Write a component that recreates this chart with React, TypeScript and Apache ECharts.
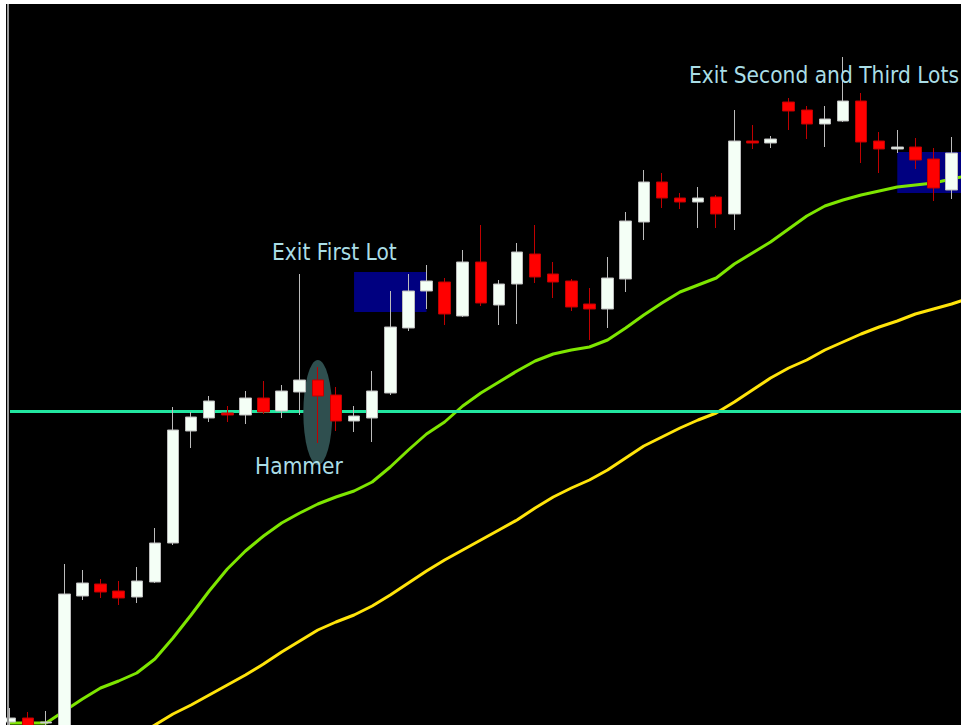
import React, { useEffect, useRef } from "react";
import * as echarts from "echarts";

// Price units: 1 unit = one chart pixel step (value = 728 - y).
const categories = Array.from({ length: 54 }, (_, i) => `Bar ${i + 1}`);

const opens = [6, 10, 5, -10, 132, 144, 137, 131, 146, 185, 297, 310, 315, 313, 330, 317, 336, 348, 333, 307, 310, 335, 400, 437, 446, 412, 466, 423, 444, 474, 454, 447, 424, 419, 449, 506, 546, 530, 526, 531, 514, 587, 585, 626, 618, 604, 607, 627, 587, 579, 581, 569, 538];
const closes = [10, 1, 6, 134, 145, 136, 130, 147, 185, 298, 311, 327, 313, 330, 316, 337, 348, 332, 307, 312, 337, 401, 437, 447, 414, 466, 425, 444, 476, 451, 446, 421, 419, 450, 507, 546, 530, 526, 530, 514, 587, 585, 589, 617, 604, 609, 627, 586, 579, 581, 568, 540, 575];
const lows = [-4, -2, 0, -12, 128, 130, 123, 125, 145, 183, 280, 306, 306, 304, 314, 310, 313, 285, 297, 296, 286, 333, 397, 419, 403, 411, 422, 403, 404, 445, 430, 417, 388, 400, 436, 488, 520, 519, 500, 500, 498, 579, 580, 598, 589, 581, 606, 565, 555, 575, 559, 527, 529];
const highs = [20, 16, 17, 164, 158, 149, 147, 161, 200, 321, 316, 332, 322, 337, 347, 343, 454, 361, 341, 322, 357, 437, 454, 463, 450, 478, 503, 448, 485, 503, 466, 449, 440, 471, 516, 558, 555, 535, 541, 533, 618, 603, 592, 630, 622, 622, 671, 635, 596, 598, 590, 580, 591];

const maFast = [5, 5, 5, 17, 29, 40, 47, 55, 69, 90, 113, 137, 159, 177, 192, 205, 215, 224, 231, 237, 246, 261, 278, 294, 306, 322, 335, 346, 357, 367, 374, 378, 381, 388, 400, 413, 425, 436, 443, 450, 464, 475, 486, 499, 512, 522, 528, 533, 537, 541, 543, 545, 549, 553];
const maSlow = [null, null, null, null, null, null, null, -8, 3, 14, 23, 33, 43, 53, 64, 76, 87, 98, 106, 113, 122, 133, 145, 157, 168, 178, 188, 198, 208, 220, 231, 240, 248, 258, 270, 282, 291, 300, 308, 315, 326, 338, 350, 360, 368, 378, 386, 394, 401, 407, 414, 419, 424, 430];

const supportLevel = 317;
const exitZones = [
  { from: 19, to: 23, low: 416, high: 456 },
  { from: 49, to: 53, low: 535, high: 576 },
];
const hammer = { index: 17, center: 315.5 };

const annotations = [
  { text: "Exit First Lot", x: 266, y: 248 },
  { text: "Exit Second and Third Lots", x: 683, y: 71 },
  { text: "Hammer", x: 249, y: 462 },
];

export default function App() {
  const ref = useRef<HTMLDivElement>(null);
  useEffect(() => {
    if (!ref.current) return;
    const chart = echarts.init(ref.current, undefined, { renderer: "svg" });
    const ohlc = opens.map((o, i) => [o, closes[i], lows[i], highs[i]]);
    chart.setOption({
      animation: false,
      backgroundColor: "#000000",
      grid: { left: 4, top: 0, width: 53 * 18.108, height: 721 },
      xAxis: { type: "category", data: categories, boundaryGap: false, show: false },
      yAxis: { type: "value", min: 3, max: 724, show: false, splitLine: { show: false } },
      series: [
        {
          type: "line",
          data: [],
          z: 1,
          silent: true,
          markArea: {
            silent: true,
            itemStyle: { color: "#000080", opacity: 1 },
            label: { show: false },
            data: exitZones.map((z) => [
              { xAxis: categories[z.from], yAxis: z.low },
              { xAxis: categories[z.to], yAxis: z.high },
            ]),
          },
          markPoint: {
            silent: true,
            symbol: "path://M50,0 A50,50 0 1,1 50,100 A50,50 0 1,1 50,0 Z",
            symbolSize: [29, 105],
            itemStyle: { color: "#2f4f4f" },
            label: { show: false },
            data: [{ coord: [categories[hammer.index], hammer.center] }],
          },
        },
        {
          type: "line",
          data: [],
          z: 2,
          silent: true,
          markLine: {
            silent: true,
            symbol: "none",
            label: { show: false },
            lineStyle: { color: "#22e6a0", width: 3, type: "solid" },
            data: [{ yAxis: supportLevel }],
          },
        },
        {
          type: "line",
          data: maFast,
          z: 3,
          symbol: "none",
          silent: true,
          lineStyle: { color: "#7ee600", width: 3 },
        },
        {
          type: "line",
          data: maSlow,
          z: 3,
          symbol: "none",
          silent: true,
          lineStyle: { color: "#ffe40a", width: 3 },
        },
        {
          type: "candlestick",
          data: ohlc,
          z: 5,
          barWidth: 12,
          silent: true,
          itemStyle: {
            color: "#f4fff6",
            color0: "#ff0000",
            borderColor: "#bcbcbc",
            borderColor0: "#c00000",
            borderWidth: 1,
          },
        },
      ],
      graphic: [
        { type: "rect", left: 1, top: 0, shape: { width: 2, height: 721 }, style: { fill: "#9a9a9a" }, z: 10 },
        ...annotations.map((a) => ({
          type: "text",
          x: a.x,
          y: a.y,
          z: 10,
          style: {
            text: a.text,
            fill: "#aadde6",
            font: '22.5px "DejaVu Sans Condensed", "DejaVu Sans", sans-serif',
            verticalAlign: "middle",
            align: "left",
          },
        })),
      ],
    });
    return () => chart.dispose();
  }, []);
  return (
    <div
      style={{
        position: "fixed",
        left: 6,
        top: 4,
        width: 955,
        height: 721,
        overflow: "hidden",
        background: "#000000",
      }}
    >
      <div ref={ref} style={{ width: 975, height: 721 }} />
    </div>
  );
}
